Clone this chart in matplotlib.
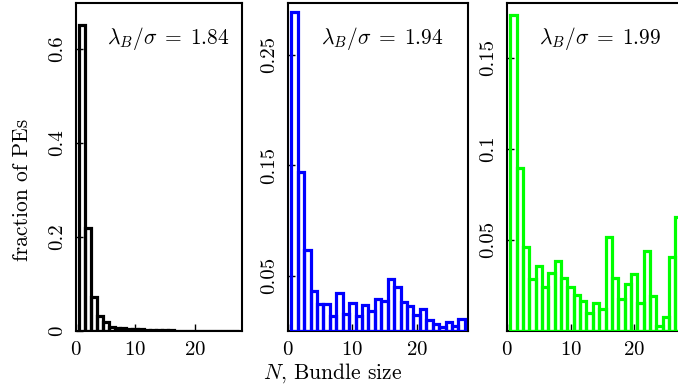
import numpy as np
import matplotlib
matplotlib.use("Agg")
import matplotlib.pyplot as plt

# -------------------------------
# Data (fraction of PEs per bundle size N)
# -------------------------------
N = np.arange(1, 28)

frac_184 = [0.652, 0.220, 0.072, 0.032, 0.019, 0.009, 0.007, 0.006, 0.005,
            0.004, 0.004, 0.003, 0.003, 0.002, 0.002, 0.0015, 0.001, 0.001,
            0.0008, 0.0006, 0.0005, 0.0005, 0.0004, 0.0004, 0.0003, 0.0003,
            0.0003]
frac_194 = [0.289, 0.144, 0.073, 0.0364, 0.0242, 0.0242, 0.0136, 0.0348,
            0.0158, 0.0258, 0.0136, 0.0233, 0.0182, 0.0288, 0.0273, 0.047,
            0.040, 0.0267, 0.0227, 0.0145, 0.0197, 0.0097, 0.006, 0.0036,
            0.0082, 0.0045, 0.0112]
frac_199 = [0.1735, 0.0893, 0.046, 0.0286, 0.0354, 0.024, 0.0319, 0.0383,
            0.029, 0.024, 0.020, 0.0164, 0.0098, 0.0153, 0.0122, 0.0515,
            0.029, 0.0173, 0.0259, 0.0314, 0.0153, 0.0438, 0.0191, 0.0026,
            0.0076, 0.0405, 0.0624]

lambdas = ["1.84", "1.94", "1.99"]
colors = ["black", "#0000ff", "#00ff00"]
yticks = [[0, 0.2, 0.4, 0.6], [0.05, 0.15, 0.25], [0.05, 0.1, 0.15]]
yticklabels = [["0", "0.2", "0.4", "0.6"], ["0.05", "0.15", "0.25"],
               ["0.05", "0.1", "0.15"]]
ytops = [0.698, 0.297, 0.18]

# -------------------------------
# Style
# -------------------------------
plt.rcParams['font.family'] = 'serif'
plt.rcParams['font.serif'] = ['cmr10', 'DejaVu Serif']
plt.rcParams['mathtext.fontset'] = 'cm'
plt.rcParams['axes.formatter.use_mathtext'] = True

W, H = 678, 392
fig = plt.figure(figsize=(W / 100, H / 100), dpi=100)

# axes boxes in pixels: left, right, top, bottom
boxes = [(76, 242, 3, 331), (288, 468, 3, 331), (507, 685, 3, 331)]
text_x = [0.555, 0.527, 0.524]

for i, data in enumerate([frac_184, frac_194, frac_199]):
    l, r, t, b = boxes[i]
    ax = fig.add_axes([l / W, (H - b) / H, (r - l) / W, (b - t) / H])
    ax.bar(N, data, width=1.0, fill=False, edgecolor=colors[i],
           linewidth=2.3, zorder=3)
    ax.set_xlim(0, 28)
    ax.set_ylim(0, ytops[i])
    ax.set_xticks([0, 10, 20])
    ax.set_yticks(yticks[i])
    ax.set_yticklabels(yticklabels[i], rotation=90, va='center')
    ax.tick_params(direction='in', length=5, width=1, labelsize=15, pad=7)
    for s in ax.spines.values():
        s.set_linewidth(1.5)
    ax.text(text_x[i], 0.893, r"$\lambda_B/\sigma\;=\;%s$" % lambdas[i],
            transform=ax.transAxes, ha='center', va='center', fontsize=15.5)

fig.text(22 / W, 1 - 190 / H, "fraction of PEs", rotation=90,
         ha='center', va='center', fontsize=15.5)
fig.text(333 / W, 1 - 373 / H, r"$N$, Bundle size",
         ha='center', va='center', fontsize=15.5)

plt.savefig("out.png", dpi=100)
plt.close()
